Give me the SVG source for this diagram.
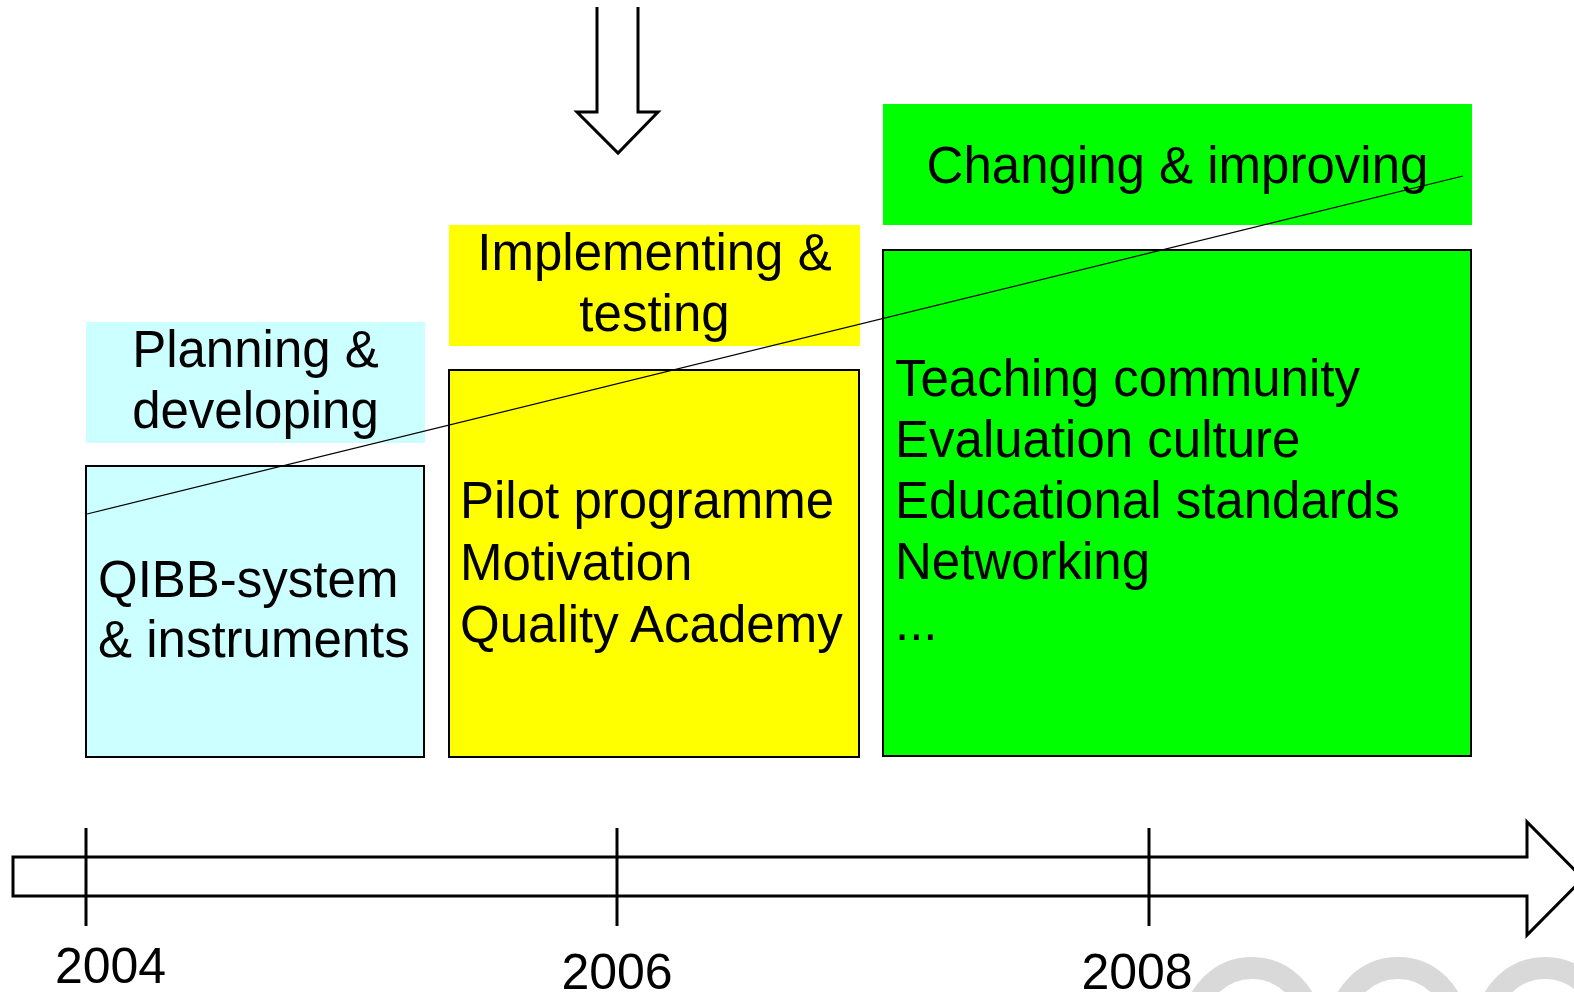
<svg xmlns="http://www.w3.org/2000/svg" width="1574" height="992" viewBox="0 0 1574 992">
  <style>
    .t { font-family: "Liberation Sans", Arial, sans-serif; font-size: 51px; fill: #000; }
    .y { font-size: 50px; }
    .c { text-anchor: middle; }
    .box { stroke: #000; stroke-width: 2; }
    .cyan { fill: #ccffff; }
    .yellow { fill: #ffff00; }
    .green { fill: #00ff00; }
    .outline { fill: #fff; stroke: #000; stroke-width: 3; stroke-linejoin: miter; }
    .ring { fill: none; stroke: #d9d9d9; stroke-width: 22; }
  </style>
  <rect width="1574" height="992" fill="#fff"/>

  <g id="watermark">
    <circle class="ring" cx="1252" cy="1026" r="58"/>
    <circle class="ring" cx="1398" cy="1026" r="58"/>
    <circle class="ring" cx="1545" cy="1026" r="58"/>
  </g>

  <g id="arrow-down">
    <polyline class="outline" points="597,7 597,112 577,112 618,153 658,112 638,112 638,7"/>
  </g>

  <g id="planning">
    <rect class="cyan" x="86" y="322" width="339" height="121"/>
    <text class="t c" x="255.5" y="367">Planning &amp;</text>
    <text class="t c" x="255.5" y="428">developing</text>
  </g>
  <g id="qibb">
    <rect class="cyan box" x="86" y="466" width="338" height="291"/>
    <text class="t" x="98" y="597">QIBB-system</text>
    <text class="t" x="98" y="657">&amp; instruments</text>
  </g>

  <g id="implementing">
    <rect class="yellow" x="449" y="225" width="411" height="121"/>
    <text class="t c" x="654.5" y="270">Implementing &amp;</text>
    <text class="t c" x="654.5" y="331">testing</text>
  </g>
  <g id="pilot">
    <rect class="yellow box" x="449" y="370" width="410" height="387"/>
    <text class="t" x="460" y="518">Pilot programme</text>
    <text class="t" x="460" y="580">Motivation</text>
    <text class="t" x="460" y="642">Quality Academy</text>
  </g>

  <g id="changing">
    <rect class="green" x="883" y="104" width="589" height="121"/>
    <text class="t c" x="1177.5" y="183">Changing &amp; improving</text>
  </g>
  <g id="teaching">
    <rect class="green box" x="883" y="250" width="588" height="506"/>
    <text class="t" x="895" y="396">Teaching community</text>
    <text class="t" x="895" y="457">Evaluation culture</text>
    <text class="t" x="895" y="518">Educational standards</text>
    <text class="t" x="895" y="579">Networking</text>
    <text class="t" x="895" y="640">...</text>
  </g>

  <g id="connectors">
    <line x1="87" y1="514" x2="1463" y2="176" stroke="#000" stroke-width="1.2"/>
  </g>

  <g id="timeline">
    <polygon class="outline" points="13,857 1527,857 1527,822 1583,878.5 1527,935 1527,896 13,896"/>
    <line x1="86" y1="828" x2="86" y2="926" stroke="#000" stroke-width="3"/>
    <line x1="617" y1="828" x2="617" y2="926" stroke="#000" stroke-width="3"/>
    <line x1="1149" y1="828" x2="1149" y2="926" stroke="#000" stroke-width="3"/>
    <text class="t y c" x="110.5" y="983">2004</text>
    <text class="t y c" x="617" y="989">2006</text>
    <text class="t y c" x="1137" y="989">2008</text>
  </g>
</svg>
